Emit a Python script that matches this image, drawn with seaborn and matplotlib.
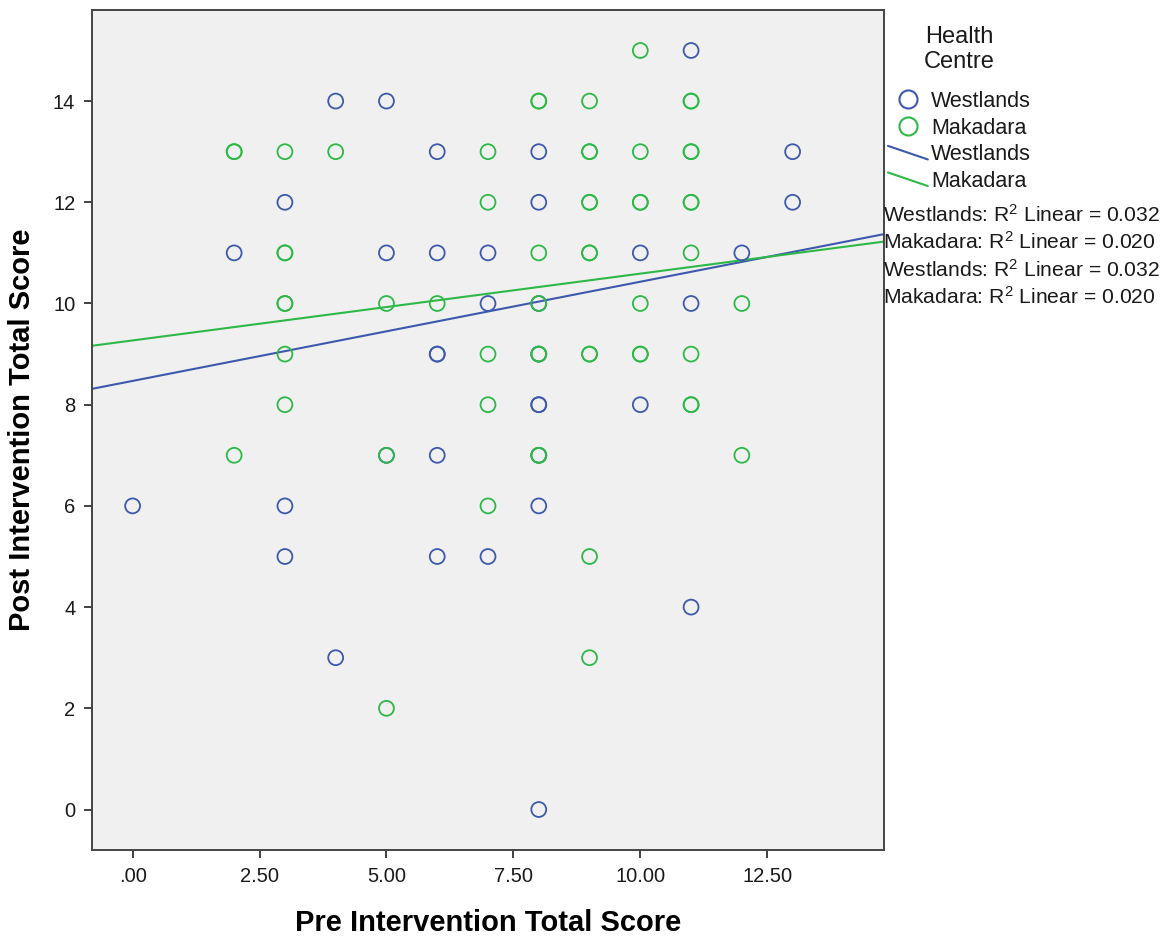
import matplotlib
matplotlib.use("Agg")
import matplotlib.pyplot as plt
import pandas as pd
import seaborn as sns
from matplotlib.legend_handler import HandlerBase
from matplotlib.lines import Line2D

# --- data ----------------------------------------------------------------
WEST_PRE = [4, 5, 11, 6, 8, 13, 3, 8, 13, 2, 5, 6, 7, 10, 12, 7, 8, 11,
            6, 6, 8, 8, 8, 10, 6, 8, 5, 0, 3, 8, 3, 6, 7, 11, 4, 8]
WEST_POST = [14, 14, 15, 13, 13, 13, 12, 12, 12, 11, 11, 11, 11, 11, 11, 10, 10, 10,
             9, 9, 9, 8, 8, 8, 7, 7, 7, 6, 6, 6, 5, 5, 5, 4, 3, 0]

MAK_PRE = [10, 8, 8, 9, 11, 11, 2, 2, 3, 4, 7, 9, 9, 10, 11, 11, 7, 9, 9, 10,
           10, 11, 11, 3, 3, 8, 9, 9, 11, 3, 3, 5, 6, 8, 10, 12, 3, 7, 8, 8,
           9, 9, 10, 10, 11, 3, 7, 11, 11, 2, 5, 8, 8, 12, 7, 9, 9, 5]
MAK_POST = [15, 14, 14, 14, 14, 14, 13, 13, 13, 13, 13, 13, 13, 13, 13, 13, 12, 12, 12, 12,
            12, 12, 12, 11, 11, 11, 11, 11, 11, 10, 10, 10, 10, 10, 10, 10, 9, 9, 9, 9,
            9, 9, 9, 9, 9, 8, 8, 8, 8, 7, 7, 7, 7, 7, 6, 5, 3, 2]

CENTRES = ["Westlands", "Makadara"]
FIT_SLOPE = [0.196, 0.132]
FIT_INTERCEPT = [8.47, 9.27]
R2_LINEAR = [0.032, 0.020]

X_TICKS = [0, 2.5, 5, 7.5, 10, 12.5]
X_TICK_LABELS = [".00", "2.50", "5.00", "7.50", "10.00", "12.50"]
Y_TICKS = [0, 2, 4, 6, 8, 10, 12, 14]

PALETTE = {"Westlands": "#3E58AC", "Makadara": "#2EB848"}
INK = "#1A1A1A"
FONT = ["Liberation Sans", "Arial", "DejaVu Sans"]


class SlantLineHandler(HandlerBase):
    """Legend key drawn as a short falling diagonal, like SPSS fit lines."""

    def create_artists(self, legend, orig_handle, xdescent, ydescent,
                       width, height, fontsize, trans):
        line = Line2D([-xdescent, width - xdescent],
                      [height * 0.95 - ydescent, height * 0.05 - ydescent])
        self.update_prop(line, orig_handle, legend)
        line.set_transform(trans)
        return [line]


def main() -> None:
    sns.set_theme(style="white")
    plt.rcParams["font.family"] = FONT
    plt.rcParams["mathtext.fontset"] = "custom"
    plt.rcParams["mathtext.rm"] = "Liberation Sans"
    plt.rcParams["mathtext.it"] = "Liberation Sans:italic"
    plt.rcParams["mathtext.bf"] = "Liberation Sans:bold"

    df = pd.DataFrame({
        "Pre": WEST_PRE + MAK_PRE,
        "Post": WEST_POST + MAK_POST,
        "Centre": ["Westlands"] * len(WEST_PRE) + ["Makadara"] * len(MAK_PRE),
    })

    fig = plt.figure(figsize=(11.69, 9.38), dpi=100)
    fig.patch.set_facecolor("white")
    ax = fig.add_axes([92 / 1169, 1 - 850 / 938, (884 - 92) / 1169, (850 - 10) / 938])
    ax.set_facecolor("#F0F0F0")

    sns.scatterplot(data=df, x="Pre", y="Post", hue="Centre", hue_order=CENTRES,
                    palette=PALETTE, s=115, linewidth=1.3, legend=False, ax=ax,
                    zorder=3)
    # hollow circles: move the hue colour to the edge
    pts = ax.collections[0]
    pts.set_edgecolors(pts.get_facecolors())
    pts.set_facecolors("none")

    ax.set_xlim(-0.8, 14.8)
    ax.set_ylim(-0.8, 15.8)

    for centre, slope, icpt in zip(CENTRES, FIT_SLOPE, FIT_INTERCEPT):
        ax.axline((0, icpt), slope=slope, color=PALETTE[centre], lw=1.5, zorder=2)

    ax.set_xticks(X_TICKS)
    ax.set_xticklabels(X_TICK_LABELS)
    ax.set_yticks(Y_TICKS)
    ax.tick_params(axis="both", direction="out", length=6, width=1.3,
                   color="#333333", labelsize=14.5, labelcolor=INK, pad=6,
                   bottom=True, left=True)
    for spine in ax.spines.values():
        spine.set_visible(True)
        spine.set_color("#444444")
        spine.set_linewidth(1.4)

    ax.set_xlabel("Pre Intervention Total Score", fontsize=21, fontweight="bold",
                  color="black", labelpad=17)
    ax.set_ylabel("Post Intervention Total Score", fontsize=21, fontweight="bold",
                  color="black", labelpad=12)

    # legend title placed separately so its gap to the keys matches SPSS
    fig.text(959 / 1169, 1 - 26 / 938, "Health\nCentre", ha="center", va="top",
             multialignment="center", fontsize=17, color=INK, linespacing=1.2)

    handles = [
        Line2D([], [], marker="o", ls="none", markersize=13, markerfacecolor="none",
               markeredgecolor=PALETTE[c], markeredgewidth=1.5, label=c)
        for c in CENTRES
    ] + [
        Line2D([], [], color=PALETTE[c], lw=1.5, label=c) for c in CENTRES
    ]
    leg = fig.legend(handles=handles, loc="upper left",
                     bbox_to_anchor=(888 / 1169, 1 - 91 / 938), frameon=False,
                     fontsize=15.5, borderpad=0, borderaxespad=0,
                     handlelength=1.85, handletextpad=0.15, labelspacing=0.26,
                     handler_map={handles[2]: SlantLineHandler(),
                                  handles[3]: SlantLineHandler()})
    for t in leg.get_texts():
        t.set_color(INK)

    r2_lines = [f"{c}: R$^2$ Linear = {r:.3f}" for c, r in zip(CENTRES, R2_LINEAR)] * 2
    for i, txt in enumerate(r2_lines):
        fig.text(883 / 1169, 1 - (215 + i * 27.3) / 938, txt, ha="left", va="center",
                 fontsize=15.2, color=INK)

    fig.savefig("out.png", dpi=100)
    plt.close(fig)


if __name__ == "__main__":
    main()
